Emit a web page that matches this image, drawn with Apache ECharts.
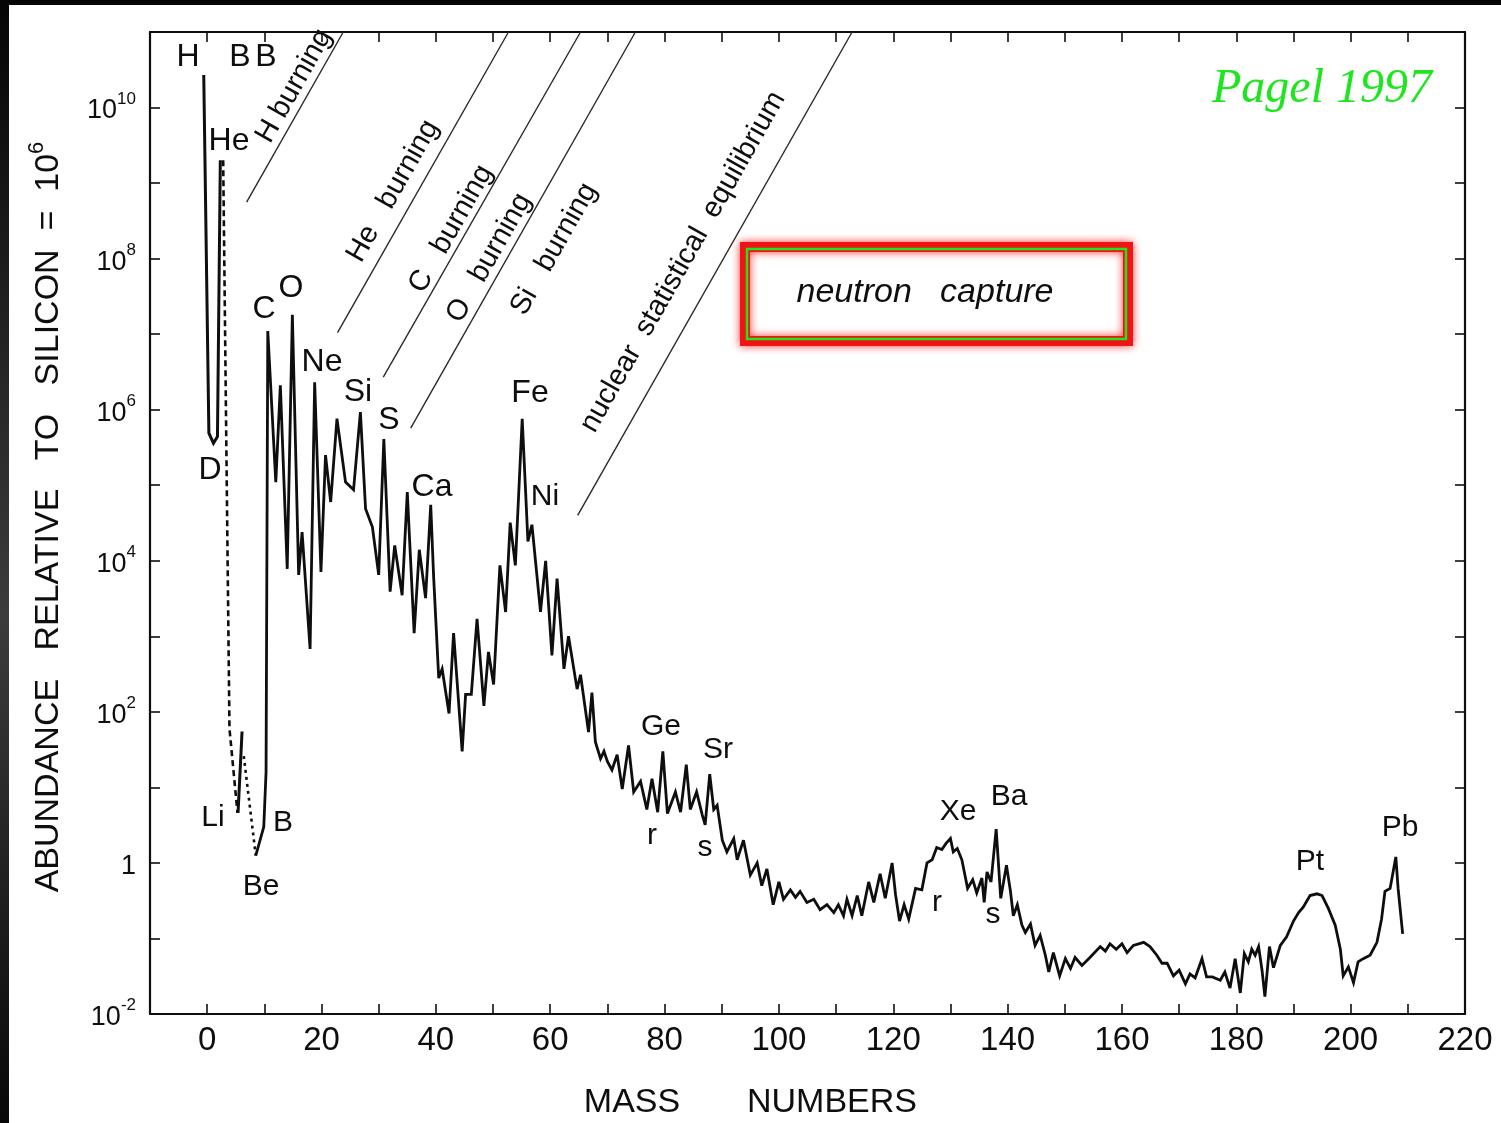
<!DOCTYPE html>
<html>
<head>
<meta charset="utf-8">
<title>Solar system abundances vs mass number</title>
<script src="https://cdn.jsdelivr.net/npm/echarts@6/dist/echarts.min.js"></script>
<style>
  html, body { margin: 0; padding: 0; background: #fff; }
  #chart { width: 1501px; height: 1123px; }
</style>
</head>
<body>
<div id="chart"></div>
<script>
// ---- Abundance curve (relative to Si = 1e6) ----
// Main solid curve, from Be through B, C, O ... up to Pb/Bi
const massMain = [8.5, 9.9, 10.3, 10.6, 12.0, 12.8, 14.0, 14.9, 16.0, 16.6, 18.0, 18.8, 19.9, 20.7, 21.6, 22.7, 24.2, 25.6, 26.8, 27.7,
  28.9, 30.0, 30.9, 32.0, 32.8, 34.1, 35.0, 36.2, 37.1, 38.2, 39.1, 39.6, 40.5, 41.1, 42.3, 43.1, 44.6, 45.2, 46.2, 47.2,
  48.4, 49.2, 50.1, 51.2, 52.2, 53.0, 53.9, 55.1, 55.7, 56.1, 56.8, 58.3, 59.2, 60.3, 61.2, 62.4, 63.2, 64.7, 65.3, 66.7,
  67.3, 67.9, 68.8, 69.4, 70.0, 70.8, 71.7, 72.6, 73.7, 74.6, 75.8, 76.9, 77.8, 78.8, 79.7, 80.5, 81.9, 82.8, 83.8, 84.5,
  85.6, 86.6, 87.1, 87.9, 88.6, 89.2, 90.1, 90.9, 92.1, 92.7, 93.8, 95.0, 96.2, 97.0, 97.9, 99.0, 100.0, 100.8, 102.0, 102.9,
  103.7, 104.9, 106.1, 107.2, 108.4, 109.6, 110.4, 111.3, 111.9, 112.8, 113.7, 114.5, 115.7, 116.6, 117.7, 118.6, 119.8, 120.4, 121.1, 121.9,
  122.7, 123.9, 125.0, 125.9, 126.8, 127.6, 128.5, 129.2, 130.0, 130.5, 131.2, 132.0, 133.0, 133.9, 134.6, 135.5, 135.9, 136.4, 137.1, 138.0,
  138.8, 139.8, 140.5, 141.0, 141.7, 142.5, 143.1, 144.0, 144.8, 145.7, 146.6, 147.2, 148.0, 149.1, 150.1, 151.0, 151.8, 153.0, 154.4, 156.2,
  157.1, 157.9, 159.0, 160.0, 160.9, 162.0, 163.8, 164.9, 166.1, 167.0, 167.9, 169.0, 170.0, 171.1, 171.9, 172.8, 174.0, 174.8, 175.8, 177.2,
  178.0, 178.9, 179.8, 180.7, 181.4, 182.1, 182.7, 183.3, 183.9, 184.5, 185.0, 185.8, 186.5, 187.7, 188.8, 190.0, 190.9, 191.7, 192.9, 194.1,
  195.0, 196.1, 197.3, 198.2, 198.7, 199.6, 200.5, 201.3, 202.2, 203.4, 204.6, 205.4, 206.0, 206.9, 207.9, 208.3, 209.1];
const abundMain = [1.25, 3.0, 16, 1.1e7, 1.1e5, 2.1e6, 7.8e3, 1.8e7, 6.5e3, 2.4e4, 680, 2.3e6, 7.1e3, 2.5e5, 6.0e4, 7.6e5, 1.1e5, 8.7e4, 9.3e5, 4.9e4,
  2.8e4, 6.5e3, 4.1e5, 3.9e3, 1.6e4, 3.5e3, 8.1e4, 1.1e3, 1.4e4, 3.2e3, 5.5e4, 6.3e3, 280, 370, 95, 1.1e3, 30, 170, 170, 1.7e3,
  120, 620, 230, 8.7e3, 2.1e3, 3.2e4, 8.7e3, 7.6e5, 8.1e4, 1.8e4, 3.0e4, 2.1e3, 1.0e4, 560, 5.8e3, 370, 1.0e3, 200, 310, 54,
  180, 40, 24, 30, 22, 17, 27, 9.5, 36, 8.7, 12, 5.1, 13, 4.7, 30, 4.5, 8.7, 4.7, 20, 5.1,
  8.7, 4.3, 3.2, 15, 5.1, 5.8, 2.0, 1.4, 2.1, 1.1, 2.0, 0.69, 1.0, 0.50, 0.83, 0.28, 0.56, 0.33, 0.44, 0.35,
  0.42, 0.30, 0.33, 0.24, 0.28, 0.22, 0.28, 0.20, 0.33, 0.20, 0.37, 0.20, 0.56, 0.30, 0.72, 0.34, 1.0, 0.38, 0.17, 0.28,
  0.18, 0.46, 0.44, 1.0, 1.1, 1.6, 1.5, 1.8, 2.1, 1.4, 1.55, 1.1, 0.46, 0.60, 0.40, 0.63, 0.30, 0.76, 0.56, 2.8,
  0.34, 0.93, 0.42, 0.20, 0.28, 0.15, 0.12, 0.155, 0.081, 0.11, 0.060, 0.036, 0.065, 0.032, 0.054, 0.040, 0.056, 0.044, 0.056, 0.078,
  0.068, 0.085, 0.072, 0.085, 0.065, 0.081, 0.089, 0.078, 0.060, 0.047, 0.047, 0.032, 0.038, 0.025, 0.034, 0.030, 0.054, 0.031, 0.031, 0.028,
  0.036, 0.022, 0.054, 0.019, 0.063, 0.049, 0.072, 0.060, 0.078, 0.038, 0.017, 0.078, 0.041, 0.081, 0.105, 0.17, 0.22, 0.26, 0.37, 0.39,
  0.37, 0.25, 0.15, 0.072, 0.032, 0.042, 0.026, 0.049, 0.054, 0.060, 0.089, 0.18, 0.42, 0.46, 1.2, 0.46, 0.115];

// H -> D -> He (Big Bang products)
const massLight = [-0.6, 0.3, 1.1, 1.8, 2.3];
const abundLight = [2.7e10, 4.9e5, 3.6e5, 4.4e5, 2.0e9];
// mass-5 gap, He down to Li (dashed)
const massGap5 = [2.8, 3.9, 5.3];
const abundGap5 = [2.0e9, 60, 4.6];
// Li isotopes
const massLi = [5.4, 6.1];
const abundLi = [4.6, 55];
// mass-8 gap, Li down to Be (dotted)
const massGap8 = [6.4, 8.5];
const abundGap8 = [26, 1.25];

// Boundaries between burning stages (start, end)
const phaseLineMass = [[6.9, 23.8], [22.8, 52.7], [30.8, 65.3], [35.6, 74.9], [64.8, 112.8]];
const phaseLineAbund = [[5.6e8, 1e11], [1.05e7, 1e11], [2.7e6, 1e11], [5.7e5, 1e11], [4.0e4, 1e11]];

// Axis ticks
const yTickValues = [1e-2, 1e-1, 1, 1e1, 1e2, 1e3, 1e4, 1e5, 1e6, 1e7, 1e8, 1e9, 1e10, 1e11];
const yLabelValues = [1e-2, 1, 1e2, 1e4, 1e6, 1e8, 1e10];

// ---- drawing ----
const INK = '#0e0e0e';
const SANS = "'Liberation Sans', Arial, 'DejaVu Sans', sans-serif";
const SERIF = "'Liberation Serif', 'Times New Roman', serif";

function pairs(xs, ys) { return xs.map((x, i) => [x, ys[i]]); }

function lineSeries(data, width, dash) {
  return {
    type: 'line', data: data, symbol: 'none', showSymbol: false, silent: true,
    lineStyle: { color: INK, width: width, type: dash || 'solid', join: 'miter', miterLimit: 4 },
    z: 3, animation: false
  };
}

function txt(text, x, y, size, extra) {
  const el = {
    type: 'text', x: x, y: y, silent: true, z: 50,
    style: {
      text: text, fontSize: size, fontFamily: SANS, fill: INK,
      align: 'center', verticalAlign: 'middle', textAlign: 'center', textVerticalAlign: 'middle'
    }
  };
  if (extra) {
    if (extra.style) Object.assign(el.style, extra.style);
    if (extra.rotation != null) el.rotation = extra.rotation;
  }
  return el;
}

const SLANT = 60.4 * Math.PI / 180;

const chart = echarts.init(document.getElementById('chart'), null, { renderer: 'canvas' });

const xAxisBase = {
  type: 'value', min: -10, max: 220, interval: 10,
  axisLine: { show: true, onZero: false, lineStyle: { color: INK, width: 2.2 } },
  axisTick: { show: true, inside: true, length: 10, lineStyle: { color: INK, width: 1.6 } },
  splitLine: { show: false }
};
const yAxisBase = {
  type: 'log', logBase: 10, min: 1e-2, max: 1e11,
  axisLine: { show: true, onZero: false, lineStyle: { color: INK, width: 2.2 } },
  axisTick: { show: true, inside: true, length: 10, customValues: yTickValues, lineStyle: { color: INK, width: 1.6 } },
  minorTick: { show: false },
  splitLine: { show: false }
};

const series = [
  lineSeries(pairs(massLight, abundLight), 3),
  lineSeries(pairs(massGap5, abundGap5), 2.6, [6, 4]),
  lineSeries(pairs(massLi, abundLi), 3),
  lineSeries(pairs(massGap8, abundGap8), 2.6, [3, 4]),
  lineSeries(pairs(massMain, abundMain), 2.8)
];
phaseLineMass.forEach((m, i) => {
  const s = lineSeries(pairs(m, phaseLineAbund[i]), 1.4);
  s.lineStyle.color = '#2a2a2a';
  series.push(s);
});

const graphic = [
  // dark slide edges around the scanned figure
  { type: 'rect', shape: { x: 0, y: 0, width: 9, height: 1123 }, silent: true, z: 60,
    style: { fill: new echarts.graphic.LinearGradient(0, 0, 0, 1, [
      { offset: 0, color: '#050505' }, { offset: 0.55, color: '#3c3c3c' }, { offset: 1, color: '#080808' }]) } },
  { type: 'rect', shape: { x: 0, y: 0, width: 1501, height: 5 }, silent: true, z: 60, style: { fill: '#060606' } },

  // element tags
  txt('H', 188, 57, 32), txt('B', 240, 57, 32), txt('B', 266, 57, 32), txt('He', 229, 141, 32), txt('D', 210, 470, 32),
  txt('Li', 213, 818, 30), txt('B', 283, 823, 30), txt('Be', 261, 887, 30),
  txt('C', 264, 309, 32), txt('O', 291, 288, 32), txt('Ne', 322, 362, 32), txt('Si', 358, 392, 32),
  txt('S', 389, 420, 32), txt('Ca', 432, 487, 32), txt('Fe', 530, 393, 32), txt('Ni', 545, 497, 30),
  txt('Ge', 661, 727, 30), txt('r', 652, 836, 30), txt('Sr', 718, 750, 30), txt('s', 705, 848, 30),
  txt('Xe', 958, 812, 30), txt('r', 937, 903, 30), txt('Ba', 1009, 797, 30), txt('s', 993, 915, 30),
  txt('Pt', 1310, 862, 30), txt('Pb', 1400, 828, 30),

  // burning stage captions
  txt('H burning', 294, 86, 29, { rotation: SLANT }),
  txt('He   burning', 393, 191, 29, { rotation: SLANT }),
  txt('C   burning', 451, 229, 29, { rotation: SLANT }),
  txt('O   burning', 489, 258, 29, { rotation: SLANT }),
  txt('Si   burning', 554, 249, 29, { rotation: SLANT }),
  txt('nuclear  statistical  equilibrium', 683, 262, 29, { rotation: SLANT }),

  // neutron capture box
  { type: 'rect', shape: { x: 745, y: 247, width: 383, height: 94 }, silent: true, z: 55,
    style: { fill: 'none', stroke: '#f01414', lineWidth: 10, shadowBlur: 9, shadowColor: 'rgba(255,0,0,0.8)' } },
  { type: 'rect', shape: { x: 747, y: 249, width: 379, height: 90 }, silent: true, z: 56,
    style: { fill: 'none', stroke: '#1ee61e', lineWidth: 2.5 } },
  txt('neutron   capture', 925, 293, 34, { style: { fontStyle: 'italic' } }),

  // citation
  txt('Pagel 1997', 1322, 89, 48, { style: { fontStyle: 'italic', fontFamily: SERIF, fill: '#1ee61e' } }),

  // axis titles
  { type: 'text', x: 46, y: 517, rotation: Math.PI / 2, silent: true, z: 50,
    style: {
      text: '{a|ABUNDANCE   RELATIVE   TO   SILICON  =  10}{s|6}',
      align: 'center', verticalAlign: 'middle', textAlign: 'center', textVerticalAlign: 'middle',
      rich: {
        a: { fontSize: 34, fontFamily: SANS, fill: INK, color: INK, lineHeight: 40, verticalAlign: 'bottom' },
        s: { fontSize: 22, fontFamily: SANS, fill: INK, color: INK, lineHeight: 22, verticalAlign: 'top' }
      }
    } },
  txt('MASS', 632, 1103, 34),
  txt('NUMBERS', 832, 1103, 34)
];

chart.setOption({
  backgroundColor: '#ffffff',
  animation: false,
  grid: { left: 150, right: 36, top: 32, bottom: 109, containLabel: false },
  xAxis: [
    Object.assign({}, xAxisBase, {
      position: 'bottom',
      axisLabel: {
        show: true, margin: 10, fontSize: 33, fontFamily: SANS, color: INK, showMinLabel: false,
        formatter: v => (v >= 0 && Math.round(v) % 20 === 0) ? String(Math.round(v)) : ''
      }
    }),
    Object.assign({}, xAxisBase, { position: 'top', axisLabel: { show: false } })
  ],
  yAxis: [
    Object.assign({}, yAxisBase, {
      position: 'left',
      axisLabel: {
        show: true, margin: 14, customValues: yLabelValues,
        formatter: v => {
          const e = Math.round(Math.log10(v));
          return e === 0 ? '{b|1}' : '{b|10}{e|' + e + '}';
        },
        rich: {
          b: { fontSize: 27, fontFamily: SANS, color: INK, lineHeight: 34, verticalAlign: 'bottom', padding: [8, 0, 0, 0] },
          e: { fontSize: 17, fontFamily: SANS, color: INK, lineHeight: 17, verticalAlign: 'top' }
        }
      }
    }),
    Object.assign({}, yAxisBase, { position: 'right', axisLabel: { show: false } })
  ],
  series: series,
  graphic: graphic
});
</script>
</body>
</html>
